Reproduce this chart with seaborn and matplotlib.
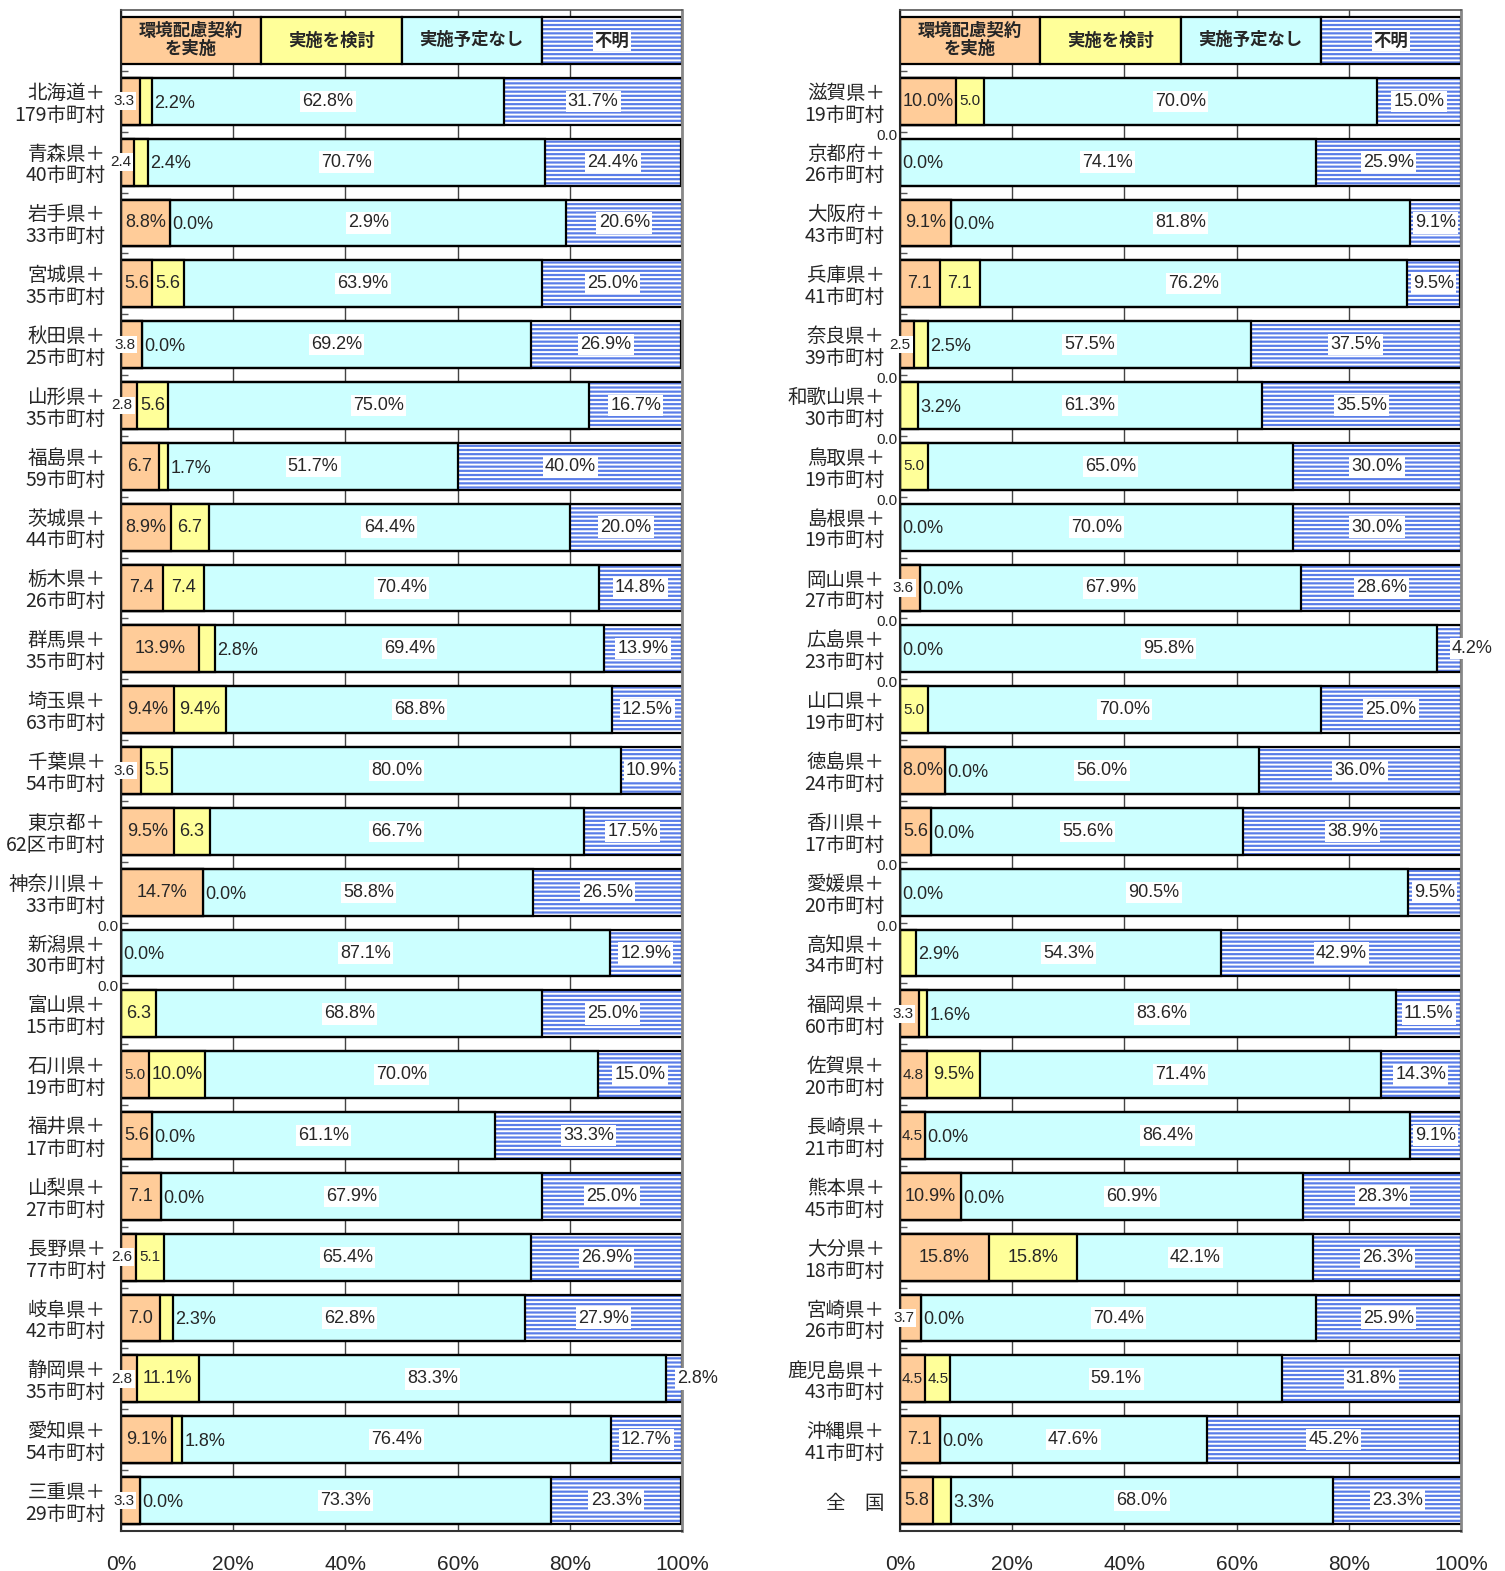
import numpy as np
import pandas as pd
import matplotlib
matplotlib.use("Agg")
import matplotlib.pyplot as plt
import seaborn as sns

sns.set_theme(style="white")
plt.rcParams["font.family"] = ["Liberation Sans", "Noto Sans CJK JP", "DejaVu Sans"]
plt.rcParams["hatch.linewidth"] = 1.4

# ---------------- data ----------------
left_names = ["北海道＋\n179市町村", "青森県＋\n40市町村", "岩手県＋\n33市町村", "宮城県＋\n35市町村",
              "秋田県＋\n25市町村", "山形県＋\n35市町村", "福島県＋\n59市町村", "茨城県＋\n44市町村",
              "栃木県＋\n26市町村", "群馬県＋\n35市町村", "埼玉県＋\n63市町村", "千葉県＋\n54市町村",
              "東京都＋\n62区市町村", "神奈川県＋\n33市町村", "新潟県＋\n30市町村", "富山県＋\n15市町村",
              "石川県＋\n19市町村", "福井県＋\n17市町村", "山梨県＋\n27市町村", "長野県＋\n77市町村",
              "岐阜県＋\n42市町村", "静岡県＋\n35市町村", "愛知県＋\n54市町村", "三重県＋\n29市町村"]
left_implemented = [3.3, 2.4, 8.8, 5.6, 3.8, 2.8, 6.7, 8.9, 7.4, 13.9, 9.4, 3.6,
                    9.5, 14.7, 0.0, 0.0, 5.0, 5.6, 7.1, 2.6, 7.0, 2.8, 9.1, 3.3]
left_considering = [2.2, 2.4, 0.0, 5.6, 0.0, 5.6, 1.7, 6.7, 7.4, 2.8, 9.4, 5.5,
                    6.3, 0.0, 0.0, 6.3, 10.0, 0.0, 0.0, 5.1, 2.3, 11.1, 1.8, 0.0]
left_no_plan = [62.8, 70.7, 70.6, 63.9, 69.2, 75.0, 51.7, 64.4, 70.4, 69.4, 68.8, 80.0,
                66.7, 58.8, 87.1, 68.8, 70.0, 61.1, 67.9, 65.4, 62.8, 83.3, 76.4, 73.3]
left_unknown = [31.7, 24.4, 20.6, 25.0, 26.9, 16.7, 40.0, 20.0, 14.8, 13.9, 12.5, 10.9,
                17.5, 26.5, 12.9, 25.0, 15.0, 33.3, 25.0, 26.9, 27.9, 2.8, 12.7, 23.3]

right_names = ["滋賀県＋\n19市町村", "京都府＋\n26市町村", "大阪府＋\n43市町村", "兵庫県＋\n41市町村",
               "奈良県＋\n39市町村", "和歌山県＋\n30市町村", "鳥取県＋\n19市町村", "島根県＋\n19市町村",
               "岡山県＋\n27市町村", "広島県＋\n23市町村", "山口県＋\n19市町村", "徳島県＋\n24市町村",
               "香川県＋\n17市町村", "愛媛県＋\n20市町村", "高知県＋\n34市町村", "福岡県＋\n60市町村",
               "佐賀県＋\n20市町村", "長崎県＋\n21市町村", "熊本県＋\n45市町村", "大分県＋\n18市町村",
               "宮崎県＋\n26市町村", "鹿児島県＋\n43市町村", "沖縄県＋\n41市町村", "全　国"]
right_implemented = [10.0, 0.0, 9.1, 7.1, 2.5, 0.0, 0.0, 0.0, 3.6, 0.0, 0.0, 8.0,
                     5.6, 0.0, 0.0, 3.3, 4.8, 4.5, 10.9, 15.8, 3.7, 4.5, 7.1, 5.8]
right_considering = [5.0, 0.0, 0.0, 7.1, 2.5, 3.2, 5.0, 0.0, 0.0, 0.0, 5.0, 0.0,
                     0.0, 0.0, 2.9, 1.6, 9.5, 0.0, 0.0, 15.8, 0.0, 4.5, 0.0, 3.3]
right_no_plan = [70.0, 74.1, 81.8, 76.2, 57.5, 61.3, 65.0, 70.0, 67.9, 95.8, 70.0, 56.0,
                 55.6, 90.5, 54.3, 83.6, 71.4, 86.4, 60.9, 42.1, 70.4, 59.1, 47.6, 68.0]
right_unknown = [15.0, 25.9, 9.1, 9.5, 37.5, 35.5, 30.0, 30.0, 28.6, 4.2, 25.0, 36.0,
                 38.9, 9.5, 42.9, 11.5, 14.3, 9.1, 28.3, 26.3, 25.9, 31.8, 45.2, 23.3]

legend_labels = ["環境配慮契約\nを実施", "実施を検討", "実施予定なし", "不明"]
x_ticks = [0, 20, 40, 60, 80, 100]
x_tick_labels = ["0%", "20%", "40%", "60%", "80%", "100%"]
# label as printed in the source chart (differs from the bar value)
label_overrides = {"岩手県＋\n33市町村": "2.9%"}

# ---------------- style ----------------
COL_O = "#FFCC99"
COL_Y = "#FFFF99"
COL_C = "#CCFFFF"
COL_B = "#5A7DE8"
HATCH = "----"
EDGE_LW = 1.6
BAR_W = 0.77
WHITE_BOX = dict(boxstyle="square,pad=0.12", fc="white", ec="none")
JP = "Noto Sans CJK JP"


def fmt(v):
    return f"{v:.1f}%" if v >= 8 else f"{v:.1f}"


def draw_panel(ax, names, o, y, c, b):
    n = len(names)
    df = pd.DataFrame({"row": np.arange(1, n + 1), "o": o, "y": y, "c": c, "b": b})
    df["s1"] = df["o"]
    df["s2"] = df["s1"] + df["y"]
    df["s3"] = df["s2"] + df["c"]
    df["s4"] = df["s3"] + df["b"]

    common = dict(data=df, y="row", orient="h", native_scale=True, width=BAR_W,
                  errorbar=None, saturation=1, ax=ax)
    # unknown (hatched) : full bar
    k = len(ax.patches)
    sns.barplot(x="s4", color=COL_B, linewidth=0, **common)
    for p in ax.patches[k:]:
        p.set_hatch(HATCH)
        p.set_edgecolor("white")
        p.set_linewidth(0)
    for col, color in [("s3", COL_C), ("s2", COL_Y), ("s1", COL_O)]:
        sns.barplot(x=col, color=color, edgecolor="black", linewidth=EDGE_LW, **common)
    # outline of full bar
    k = len(ax.patches)
    sns.barplot(x="s4", color="black", linewidth=EDGE_LW, **common)
    for p in ax.patches[k:]:
        p.set_facecolor("none")
        p.set_edgecolor("black")
        p.set_linewidth(EDGE_LW)

    # legend header row
    hdr_cols = [COL_O, COL_Y, COL_C, COL_B]
    for j, (lab, col) in enumerate(zip(legend_labels, hdr_cols)):
        if col == COL_B:
            ax.barh(0, 25, left=25 * j, height=0.76, color=col, edgecolor="white",
                    linewidth=0, hatch=HATCH)
            ax.barh(0, 25, left=25 * j, height=0.76, facecolor="none", edgecolor="black",
                    linewidth=EDGE_LW)
            ax.text(25 * j + 12.5, 0, lab, ha="center", va="center", fontsize=12.5,
                    fontweight="bold", family=JP,
                    bbox=dict(boxstyle="square,pad=0.1", fc="white", ec="none"))
        else:
            ax.text(25 * j + 12.5, 0, lab, ha="center", va="center", fontsize=12.5,
                    fontweight="bold", family=JP, linespacing=1.0)
            ax.barh(0, 25, left=25 * j, height=0.76, color=col, edgecolor="black",
                    linewidth=EDGE_LW)

    # value labels
    for i, row in df.iterrows():
        r = row["row"]
        oi, yi, ci, bi = row["o"], row["y"], row["c"], row["b"]
        # implemented
        if oi == 0:
            ax.text(-0.4, r - BAR_W / 2 - 0.05, "0.0", ha="right", va="center", fontsize=11)
        elif oi < 4.5:
            ax.text(oi / 2 - 1.2, r, f"{oi:.1f}", ha="center", va="center", fontsize=11,
                    bbox=WHITE_BOX, zorder=5)
        else:
            ax.text(oi / 2, r, fmt(oi), ha="center", va="center",
                    fontsize=11 if oi < 5.5 else 13)
        # considering
        if yi < 4.5:
            ax.text(row["s2"] + 0.4, r + 0.03, f"{yi:.1f}%", ha="left", va="center", fontsize=13)
        else:
            ax.text(oi + yi / 2, r, fmt(yi), ha="center", va="center",
                    fontsize=11 if yi < 5.5 else 13)
        # no plan
        txt = label_overrides.get(names[i], f"{ci:.1f}%")
        ax.text(row["s2"] + ci / 2, r, txt, ha="center", va="center", fontsize=13,
                bbox=WHITE_BOX)
        # unknown
        if bi < 5:
            ax.text(100 - bi / 2 + 0.5, r, f"{bi:.1f}%", ha="left", va="center", fontsize=13,
                    bbox=WHITE_BOX, zorder=5)
        else:
            ax.text(row["s3"] + bi / 2, r, f"{bi:.1f}%", ha="center", va="center", fontsize=13,
                    bbox=WHITE_BOX)

    ax.set_xlim(0, 100)
    ax.set_ylim(n + 0.5, -0.5)
    ax.set_xlabel("")
    ax.set_ylabel("")
    ax.set_xticks(x_ticks)
    ax.set_xticklabels(x_tick_labels)
    ax.set_yticks(np.arange(1, n + 1))
    ax.set_yticklabels(names, family=JP, fontsize=14, linespacing=1.05)
    ax.set_yticks(np.arange(0.5, n, 1.0), minor=True)
    ax.tick_params(axis="y", which="major", length=0, pad=11)
    ax.tick_params(axis="y", which="minor", left=True, direction="in", length=5,
                   width=1, color="#555555")
    ax.tick_params(axis="x", length=0, pad=17, labelsize=15)
    ax.set_axisbelow(True)
    ax.grid(axis="x", color="#444444", linewidth=1)
    ax.grid(axis="y", visible=False)
    for side, col, lw in [("left", "#222222", 1.5), ("bottom", "#333333", 1.5),
                          ("top", "#555555", 1.2), ("right", "#888888", 2.0)]:
        ax.spines[side].set_visible(True)
        ax.spines[side].set_color(col)
        ax.spines[side].set_linewidth(lw)


fig = plt.figure(figsize=(15.05, 15.71), dpi=100)
axL = fig.add_axes([121 / 1505, 40 / 1571, 561 / 1505, 1521 / 1571])
axR = fig.add_axes([900 / 1505, 40 / 1571, 561 / 1505, 1521 / 1571])

draw_panel(axL, left_names, left_implemented, left_considering, left_no_plan, left_unknown)
draw_panel(axR, right_names, right_implemented, right_considering, right_no_plan, right_unknown)

fig.savefig("out.png", dpi=100, facecolor="white")
